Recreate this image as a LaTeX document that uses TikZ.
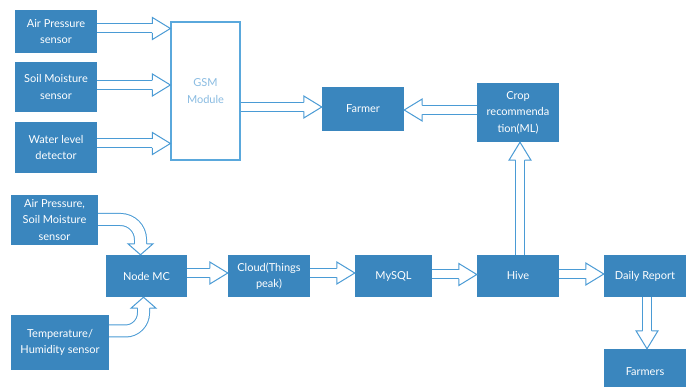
\documentclass[tikz,border=0pt]{standalone}
\usepackage{fontspec}
\setmainfont{Lato}
\usetikzlibrary{calc}
\definecolor{boxblue}{HTML}{3A86BE}
\definecolor{flowblue}{HTML}{4A9BD5}
\definecolor{gsmblue}{HTML}{5AA8DC}
\definecolor{gsmtext}{HTML}{8ABCE2}
\tikzset{
  block/.style={rectangle, fill=boxblue, text=white, align=center,
    font=\fontsize{11}{16.5}\selectfont, inner sep=2pt,
    minimum width=82pt, minimum height=42pt},
  shaft/.style={draw=flowblue, line width=1pt, double=white, double distance=8pt},
  fathead/.style={draw=flowblue, line width=1pt, fill=white, line join=miter},
}
% hollow head: from, tip, length, half shaft, half head
\newcommand{\fathead}[5]{%
  \coordinate (hb) at ($(#2)!#3!(#1)$);
  \draw[fathead] ($(hb)!#4!90:(#2)$) -- ($(hb)!#5!90:(#2)$) -- (#2)
    -- ($(hb)!#5!-90:(#2)$) -- ($(hb)!#4!-90:(#2)$);}
% straight hollow arrow
\newcommand{\fatflow}[2]{%
  \coordinate (fs) at (#1);
  \coordinate (ft) at (#2);
  \draw[shaft] (fs) -- ($(ft)!18pt!(fs)$);
  \fathead{fs}{ft}{18pt}{4.5pt}{11pt}}
\begin{document}
\begin{tikzpicture}[x=1pt,y=-1pt]
\useasboundingbox (0,0) rectangle (694,387);
\clip (0,0) rectangle (694,387);
\fill[white] (0,0) rectangle (694,387);
% upper part
\node[block, minimum height=43pt] (ap) at (56,31.5) {Air Pressure\\sensor};
\node[block, minimum height=50pt] (sm) at (56,87) {Soil Moisture\\sensor};
\node[block, minimum height=51pt] (wl) at (56,147.5) {Water level\\detector};
\node[draw=gsmblue, line width=1.2pt, fill=white, text=gsmtext, align=center,
  font=\fontsize{11}{16.5}\selectfont, minimum width=69pt, minimum height=138pt]
  (gsm) at (205.5,91) {GSM\\Module};
\node[block, minimum height=44pt] (farmer) at (363,109) {Farmer};
\node[block, minimum height=59pt] (crop) at (518,112.5) {Crop\\recommenda\\tion(ML)};
% lower part
\node[block, minimum width=87pt, minimum height=50pt] (aps) at (54.5,220) {Air Pressure,\\Soil Moisture\\sensor};
\node[block, minimum width=81pt] (nodemc) at (146.5,276) {Node MC};
\node[block, minimum width=98pt, minimum height=55pt] (temp) at (60,342.5) {Temperature/\\Humidity sensor};
\node[block] (cloud) at (269,276) {Cloud(Things\\peak)};
\node[block, minimum width=77pt] (mysql) at (393.5,276) {MySQL};
\node[block] (hive) at (518,276) {Hive};
\node[block] (daily) at (645,276) {Daily Report};
\node[block, minimum height=46pt] (farmers) at (645,372) {Farmers};
% arrows
\coordinate (a1) at ([yshift=3pt]ap.east);
\fatflow{a1}{a1 -| gsm.west}
\coordinate (a2) at ([yshift=2pt]sm.east);
\fatflow{a2}{a2 -| gsm.west}
\coordinate (a3) at ([yshift=4pt]wl.east);
\fatflow{a3}{a3 -| gsm.west}
\coordinate (a4) at ([yshift=2pt]farmer.west);
\fatflow{gsm.east |- a4}{a4}
\coordinate (a5) at ([yshift=2.5pt]crop.west);
\fatflow{a5}{a5 -| farmer.east}
\coordinate (a6) at ([xshift=2pt]hive.north);
\fatflow{a6}{a6 |- crop.south}
\coordinate (a7) at ([yshift=3pt]nodemc.east);
\fatflow{a7}{a7 -| cloud.west}
\coordinate (a8) at ([yshift=3pt]cloud.east);
\fatflow{a8}{a8 -| mysql.west}
\coordinate (a9) at ([yshift=1.5pt]mysql.east);
\fatflow{a9}{a9 -| hive.west}
\coordinate (a10) at ([yshift=2pt]hive.east);
\fatflow{a10}{a10 -| daily.west}
\coordinate (a11) at ([xshift=2pt]daily.south);
\fatflow{a11}{a11 |- farmers.north}
% curved arrows into Node MC
\coordinate (c1) at ([yshift=0.5pt]aps.east);
\coordinate (c1t) at ([xshift=-6pt]nodemc.north);
\coordinate (c1u) at (c1t |- c1);
\draw[shaft, double distance=11pt, rounded corners=20pt] (c1) -| ([yshift=11pt]c1t);
\fathead{c1u}{c1t}{11pt}{6pt}{12.5pt}
\coordinate (c2) at ([yshift=11.5pt]temp.east);
\coordinate (c2t) at ([xshift=-3pt]nodemc.south);
\coordinate (c2d) at (c2t |- c2);
\draw[shaft, double distance=11pt, rounded corners=18pt] (c2) -| ([yshift=-11pt]c2t);
\fathead{c2d}{c2t}{11pt}{6pt}{12.5pt}
\end{tikzpicture}
\end{document}
